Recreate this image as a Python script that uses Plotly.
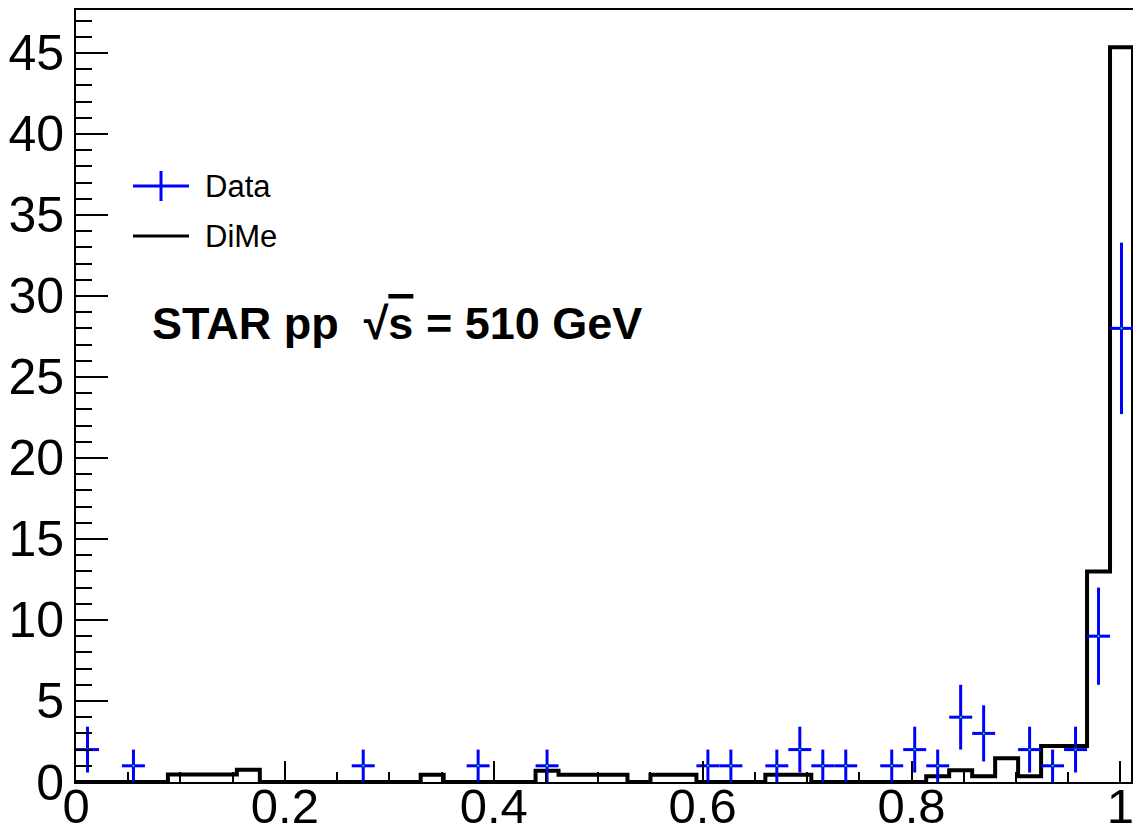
import plotly.graph_objects as go

# ---- data (46 bins of width 0.022 starting at 0) ----
BIN_START = 0.0
BIN_WIDTH = 0.022
N_BINS = 46

data_counts = [2, 0, 1, 0, 0, 0, 0, 0, 0, 0,
               0, 0, 1, 0, 0, 0, 0, 1, 0, 0,
               1, 0, 0, 0, 0, 0, 0, 1, 1, 0,
               1, 2, 1, 1, 0, 1, 2, 1, 4, 3,
               0, 2, 1, 2, 9, 28]

dime_values = [0, 0, 0, 0, 0.47, 0.47, 0.47, 0.76, 0, 0,
               0, 0, 0, 0, 0, 0.45, 0, 0, 0, 0,
               0.70, 0.45, 0.45, 0.45, 0, 0.45, 0.45, 0, 0, 0,
               0.45, 0.45, 0, 0, 0, 0, 0, 0.35, 0.72, 0.35,
               1.46, 0.35, 2.22, 2.22, 13.0, 45.35]

x_ticks = [0, 0.2, 0.4, 0.6, 0.8, 1]
x_tick_labels = ["0", "0.2", "0.4", "0.6", "0.8", "1"]
y_ticks = [0, 5, 10, 15, 20, 25, 30, 35, 40, 45]
y_tick_labels = [str(v) for v in y_ticks]

# ---- derived ----
edges = [BIN_START + BIN_WIDTH * i for i in range(N_BINS + 1)]
centers = [BIN_START + BIN_WIDTH * (i + 0.5) for i in range(N_BINS)]
dx = [c for c, n in zip(centers, data_counts) if n > 0]
dy = [n for n in data_counts if n > 0]
derr = [n ** 0.5 for n in dy]

fig = go.Figure()

# DiMe histogram as steps
fig.add_trace(go.Scatter(
    x=edges, y=dime_values + [0],
    mode="lines", line=dict(shape="hv", color="black", width=4),
    name="DiMe", showlegend=False, hoverinfo="skip"))

# Data points with errors
fig.add_trace(go.Scatter(
    x=dx, y=dy, mode="markers",
    marker=dict(symbol="square", size=2, color="#00ff00", line=dict(width=0)),
    error_x=dict(type="constant", value=BIN_WIDTH / 2, width=0, thickness=3, color="#0000ff"),
    error_y=dict(type="data", array=derr, width=0, thickness=3, color="#0000ff"),
    name="Data", showlegend=False))

# page offset (html body margin) and target plot area in page pixels
OFF = 8
L, R, T, B = 76, 1133, 10, 782
W, H = 1141 - OFF, 836 - OFF

def px(x):
    return (x - L) / (R - L)

def py(y):
    return (B - y) / (B - T)

shapes = [
    # legend: Data cross
    dict(type="line", xref="paper", yref="paper", x0=px(133), x1=px(189), y0=py(186), y1=py(186),
         line=dict(color="#0000ff", width=3)),
    dict(type="line", xref="paper", yref="paper", x0=px(161), x1=px(161), y0=py(171), y1=py(201),
         line=dict(color="#0000ff", width=3)),
    # legend: DiMe line
    dict(type="line", xref="paper", yref="paper", x0=px(133), x1=px(189), y0=py(236), y1=py(236),
         line=dict(color="black", width=3)),
]

annotations = [
    dict(text="Data", xref="paper", yref="paper", x=px(203), y=py(186), xanchor="left", yanchor="middle",
         showarrow=False, font=dict(family="Liberation Sans, Arial", size=31, color="black")),
    dict(text="DiMe", xref="paper", yref="paper", x=px(203), y=py(236), xanchor="left", yanchor="middle",
         showarrow=False, font=dict(family="Liberation Sans, Arial", size=31, color="black")),
    dict(text="<b>STAR pp  √<span style='text-decoration:overline'>s</span> = 510 GeV</b>",
         xref="paper", yref="paper", x=px(150), y=py(323), xanchor="left", yanchor="middle",
         showarrow=False, font=dict(family="Liberation Sans, Arial", size=45, color="black")),
]

fig.update_layout(
    width=W, height=H,
    margin=dict(l=L - OFF, r=W - (R - OFF), t=T - OFF, b=H - (B - OFF), pad=0, autoexpand=False),
    paper_bgcolor="white", plot_bgcolor="white",
    shapes=shapes, annotations=annotations,
    showlegend=False,
    font=dict(family="Liberation Sans, Arial", color="black"),
)

fig.update_xaxes(
    range=[0, 1.012], showgrid=False, zeroline=False, automargin=False,
    showline=True, linecolor="black", linewidth=2, mirror=True,
    ticks="inside", ticklen=21, tickwidth=1.5, tickcolor="black",
    tickvals=x_ticks, ticktext=x_tick_labels, ticklabelstandoff=-20,
    tickfont=dict(size=49, family="Liberation Sans, Arial", color="black"),
    minor=dict(ticks="inside", ticklen=10, tickwidth=1.5, tickcolor="black", dtick=0.05, tick0=0, showgrid=False),
)
fig.update_yaxes(
    range=[0, 47.65], showgrid=False, zeroline=False, automargin=False,
    showline=True, linecolor="black", linewidth=2, mirror=True,
    ticks="inside", ticklen=32, tickwidth=2, tickcolor="black",
    tickvals=y_ticks, ticktext=y_tick_labels,
    tickfont=dict(size=50, family="Liberation Sans, Arial", color="black"),
    minor=dict(ticks="inside", ticklen=16, tickwidth=2, tickcolor="black", dtick=1, tick0=0, showgrid=False),
)

fig.write_html("out.html")
